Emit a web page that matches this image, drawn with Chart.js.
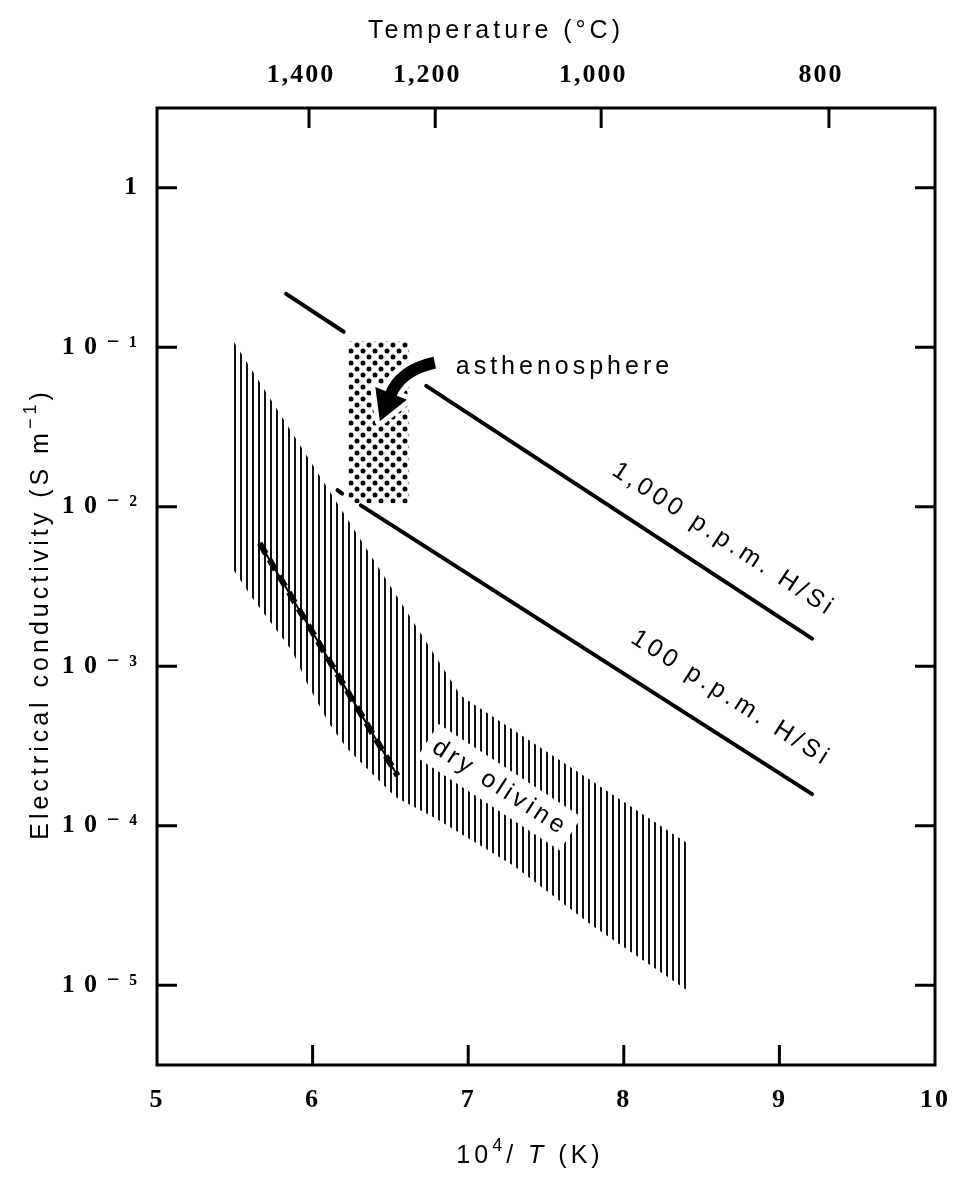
<!DOCTYPE html>
<html>
<head>
<meta charset="utf-8">
<script src="https://cdn.jsdelivr.net/npm/chart.js@4.4.1/dist/chart.umd.min.js"></script>
<style>
  html, body { margin: 0; padding: 0; background: #fff; }
  canvas { display: block; }
</style>
</head>
<body>
<canvas id="chart" width="968" height="1183"></canvas>
<script>
// axes
const X_TICKS = [5, 6, 7, 8, 9, 10];
const Y_TICKS = [1e-5, 1e-4, 1e-3, 1e-2, 1e-1, 1];
const TEMP_C_TICKS = [1400, 1200, 1000, 800];
const TEMP_C_LABELS = ['1,400', '1,200', '1,000', '800'];

// 1,000 p.p.m. H/Si (gap where it passes the asthenosphere box)
const ppm1000X = [5.83, 6.20, 6.45, 6.73, 9.21];
const ppm1000Y = [0.216, 0.125, null, 0.0573, 0.00149];

// 100 p.p.m. H/Si
const ppm100X = [6.16, 6.19, 6.25, 6.31, 9.21];
const ppm100Y = [0.0127, 0.0121, null, 0.0102, 0.000158];

// asthenosphere box
const asthenoX = [6.23, 6.62, 6.62, 6.23, 6.23];
const asthenoY = [0.109, 0.109, 0.0105, 0.0105, 0.109];

// dry olivine band (top edge left->right, then bottom edge right->left)
const olivineX = [5.494, 6.952, 8.416, 8.416, 7.801, 7.294, 6.787, 6.534, 6.217, 6.103, 5.963, 5.868, 5.615, 5.494, 5.494];
const olivineY = [0.108, 6.53e-4, 7.69e-5, 9.17e-6, 2.35e-5, 5.6e-5, 1.12e-4, 1.51e-4, 3.08e-4, 4.43e-4, 7.88e-4, 1.25e-3, 2.66e-3, 3.98e-3, 0.108];

// dashed line inside the olivine band
const dryLineX = [5.66, 6.546];
const dryLineY = [5.9e-3, 2.06e-4];

// annotation anchors (data coords)
const ASTHENO_LABEL = { x: 6.92, y: 0.0679, text: 'asthenosphere' };
const PPM1000_LABEL = { x: 8.618, y: 5.72e-3, text: '1,000 p.p.m. H/Si' };
const PPM100_LABEL = { x: 8.666, y: 5.78e-4, text: '100 p.p.m. H/Si' };
const OLIVINE_LABEL = { x: 7.205, y: 1.73e-4, text: 'dry olivine' };
const ARROW_TAIL = { x: 6.785, y: 0.0800 };
const ARROW_BEND = { x: 6.565, y: 0.0719 };
const ARROW_TIP = { x: 6.432, y: 0.0344 };

const SANS = "'Liberation Sans', Arial, sans-serif";
const SERIF = "'Liberation Serif', 'DejaVu Serif', serif";
const SUP = { '-': '\u207B', '0': '\u2070', '1': '\u00B9', '2': '\u00B2', '3': '\u00B3', '4': '\u2074', '5': '\u2075' };

function pts(xs, ys) {
  return xs.map((x, i) => ({ x: x, y: ys[i] }));
}

const canvas = document.getElementById('chart');
const ctx0 = canvas.getContext('2d');

function hatchPattern() {
  const c = document.createElement('canvas');
  c.width = 6; c.height = 6;
  const g = c.getContext('2d');
  g.fillStyle = '#111';
  g.fillRect(0, 0, 2, 6);
  return ctx0.createPattern(c, 'repeat');
}

function dotPattern() {
  const c = document.createElement('canvas');
  c.width = 12; c.height = 12;
  const g = c.getContext('2d');
  g.fillStyle = '#000';
  [[3, 3], [9, 9]].forEach(p => {
    g.beginPath(); g.arc(p[0], p[1], 2.5, 0, Math.PI * 2); g.fill();
  });
  return ctx0.createPattern(c, 'repeat');
}

function drawSpaced(ctx, pieces, x, y, align) {
  // pieces: [{text, font, dy}]
  let total = 0;
  pieces.forEach(p => { ctx.font = p.font; p.w = ctx.measureText(p.text).width; total += p.w; });
  let cx = align === 'center' ? x - total / 2 : x;
  ctx.textAlign = 'left';
  pieces.forEach(p => {
    ctx.font = p.font;
    ctx.fillText(p.text, cx, y + (p.dy || 0));
    cx += p.w;
  });
}

function pix(chart, p) {
  return { x: chart.scales.x.getPixelForValue(p.x), y: chart.scales.y.getPixelForValue(p.y) };
}

function lineAngle(chart, xs, ys, i, j) {
  const a = pix(chart, { x: xs[i], y: ys[i] });
  const b = pix(chart, { x: xs[j], y: ys[j] });
  return Math.atan2(b.y - a.y, b.x - a.x);
}

function quad(ctx, a, c, b) {
  ctx.beginPath();
  ctx.moveTo(a.x, a.y);
  ctx.quadraticCurveTo(c.x, c.y, b.x, b.y);
}

function drawArrow(ctx, tail, bend, tip) {
  const dx = tip.x - bend.x, dy = tip.y - bend.y;
  const L = Math.hypot(dx, dy);
  const ux = dx / L, uy = dy / L;
  const headLen = 30, headW = 17;
  const base = { x: tip.x - ux * headLen, y: tip.y - uy * headLen };
  const w1 = { x: base.x + uy * headW, y: base.y - ux * headW };
  const w2 = { x: base.x - uy * headW, y: base.y + ux * headW };
  const head = () => {
    ctx.beginPath();
    ctx.moveTo(tip.x, tip.y); ctx.lineTo(w1.x, w1.y); ctx.lineTo(w2.x, w2.y); ctx.closePath();
  };
  ctx.save();
  ctx.lineCap = 'butt';
  ctx.strokeStyle = '#fff';
  ctx.fillStyle = '#fff';
  ctx.lineWidth = 22;
  quad(ctx, tail, bend, base); ctx.stroke();
  ctx.lineWidth = 10; ctx.lineJoin = 'round';
  head(); ctx.stroke(); ctx.fill();
  ctx.strokeStyle = '#000';
  ctx.fillStyle = '#000';
  ctx.lineWidth = 12;
  quad(ctx, tail, bend, { x: base.x + ux * 2, y: base.y + uy * 2 }); ctx.stroke();
  head(); ctx.fill();
  ctx.restore();
}

function drawRotated(ctx, text, p, angle, baseline, whiteBox) {
  ctx.save();
  ctx.translate(p.x, p.y);
  ctx.rotate(angle);
  ctx.font = '25px ' + SANS;
  ctx.letterSpacing = '4px';
  const w = ctx.measureText(text).width;
  if (whiteBox) {
    ctx.fillStyle = '#fff';
    ctx.fillRect(-w / 2 - 8, -20, w + 14, 40);
  }
  ctx.fillStyle = '#000';
  ctx.textAlign = 'center';
  ctx.textBaseline = baseline;
  ctx.fillText(text, 0, 0);
  ctx.restore();
}

const decor = {
  id: 'decor',
  beforeDraw(chart) {
    chart.ctx.letterSpacing = '2px';
  },
  afterDatasetsDraw(chart) {
    const ctx = chart.ctx;
    const { left, top, right, bottom } = chart.chartArea;
    ctx.save();
    ctx.beginPath(); ctx.rect(left, top, right - left, bottom - top); ctx.clip();

    drawArrow(ctx, pix(chart, ARROW_TAIL), pix(chart, ARROW_BEND), pix(chart, ARROW_TIP));

    ctx.font = '25px ' + SANS;
    ctx.letterSpacing = '4px';
    ctx.fillStyle = '#000';
    ctx.textAlign = 'left';
    ctx.textBaseline = 'alphabetic';
    const a = pix(chart, ASTHENO_LABEL);
    ctx.fillText(ASTHENO_LABEL.text, a.x, a.y);

    drawRotated(ctx, PPM1000_LABEL.text, pix(chart, PPM1000_LABEL), lineAngle(chart, ppm1000X, ppm1000Y, 3, 4), 'alphabetic', false);
    drawRotated(ctx, PPM100_LABEL.text, pix(chart, PPM100_LABEL), lineAngle(chart, ppm100X, ppm100Y, 3, 4), 'alphabetic', false);
    drawRotated(ctx, OLIVINE_LABEL.text, pix(chart, OLIVINE_LABEL), lineAngle(chart, olivineX, olivineY, 1, 2), 'middle', true);
    ctx.restore();
  },
  afterDraw(chart) {
    const ctx = chart.ctx;
    const { left, top, right, bottom } = chart.chartArea;
    const x = chart.scales.x, y = chart.scales.y, xt = chart.scales.xTop;
    ctx.save();
    ctx.strokeStyle = '#000';
    ctx.lineWidth = 3;
    ctx.lineCap = 'butt';
    ctx.strokeRect(left, top, right - left, bottom - top);
    const seg = (x1, y1, x2, y2) => { ctx.beginPath(); ctx.moveTo(x1, y1); ctx.lineTo(x2, y2); ctx.stroke(); };
    y.ticks.forEach(t => {
      const py = y.getPixelForValue(t.value);
      seg(left, py, left + 20, py);
      seg(right, py, right - 20, py);
    });
    x.ticks.forEach(t => {
      if (t.value <= 5 || t.value >= 10) return;
      const px = x.getPixelForValue(t.value);
      seg(px, bottom, px, bottom - 20);
    });
    xt.ticks.forEach(t => {
      const px = xt.getPixelForValue(t.value);
      seg(px, top, px, top + 20);
    });

    // axis titles
    ctx.fillStyle = '#000';
    ctx.letterSpacing = '4px';
    ctx.textBaseline = 'alphabetic';
    const f = '25px ' + SANS;
    const fs = '18px ' + SANS;
    drawSpaced(ctx, [{ text: 'Temperature (\u00B0C)', font: f }], 496, 38, 'center');
    drawSpaced(ctx, [
      { text: '10', font: f },
      { text: '4', font: fs, dy: -12 },
      { text: '/ ', font: f },
      { text: 'T', font: 'italic ' + f },
      { text: ' (K)', font: f }
    ], 530, 1163, 'center');
    ctx.translate(48, 614);
    ctx.rotate(-Math.PI / 2);
    drawSpaced(ctx, [
      { text: 'Electrical conductivity (S m', font: f },
      { text: '\u22121', font: fs, dy: -12 },
      { text: ')', font: f }
    ], 0, 0, 'center');
    ctx.restore();
  }
};

const tickFont = { family: SERIF, size: 26, weight: 'bold' };

new Chart(canvas, {
  type: 'line',
  data: {
    datasets: [
      {
        label: '1,000 p.p.m. H/Si',
        data: pts(ppm1000X, ppm1000Y),
        borderColor: '#000', borderWidth: 4, borderCapStyle: 'round',
        pointRadius: 0, spanGaps: false, fill: false, order: 1
      },
      {
        label: '100 p.p.m. H/Si',
        data: pts(ppm100X, ppm100Y),
        borderColor: '#000', borderWidth: 4, borderCapStyle: 'round',
        pointRadius: 0, spanGaps: false, fill: false, order: 1
      },
      {
        label: 'dry olivine trend',
        data: pts(dryLineX, dryLineY),
        borderColor: '#000', borderWidth: 2,
        pointRadius: 0, fill: false, order: 2
      },
      {
        label: 'dry olivine trend marks',
        data: pts(dryLineX, dryLineY),
        borderColor: '#000', borderWidth: 6, borderDash: [12, 7],
        pointRadius: 0, fill: false, order: 2
      },
      {
        label: 'asthenosphere',
        data: pts(asthenoX, asthenoY),
        borderColor: 'rgba(0,0,0,0)', borderWidth: 1,
        backgroundColor: dotPattern(),
        pointRadius: 0, fill: 'shape', order: 3
      },
      {
        label: 'dry olivine',
        data: pts(olivineX, olivineY),
        borderColor: 'rgba(0,0,0,0)', borderWidth: 1,
        backgroundColor: hatchPattern(),
        pointRadius: 0, fill: 'shape', order: 5
      }
    ]
  },
  options: {
    responsive: false,
    animation: false,
    events: [],
    layout: { padding: { left: 0, right: 21, top: 0, bottom: 0 } },
    plugins: {
      legend: { display: false },
      tooltip: { enabled: false }
    },
    scales: {
      x: {
        type: 'linear',
        position: 'bottom',
        min: 5, max: 10,
        afterBuildTicks: (s) => { s.ticks = X_TICKS.map(v => ({ value: v })); },
        afterFit: (s) => { s.height = 118; },
        grid: { display: false, drawTicks: false },
        border: { display: false },
        ticks: { autoSkip: false, maxRotation: 0, padding: 20, color: '#000', font: tickFont }
      },
      xTop: {
        type: 'linear',
        position: 'top',
        min: 5, max: 10,
        afterBuildTicks: (s) => { s.ticks = TEMP_C_TICKS.map(c => ({ value: 1e4 / (c + 273.15) })); },
        afterFit: (s) => { s.height = 108; },
        grid: { display: false, drawTicks: false },
        border: { display: false },
        ticks: {
          autoSkip: false, maxRotation: 0, padding: 17, labelOffset: -8, color: '#000', font: tickFont,
          callback: (v, i) => TEMP_C_LABELS[i]
        }
      },
      y: {
        type: 'logarithmic',
        position: 'left',
        min: Math.pow(10, -5.5), max: Math.pow(10, 0.5),
        afterBuildTicks: (s) => { s.ticks = Y_TICKS.map(v => ({ value: v })); },
        afterFit: (s) => { s.width = 157; },
        grid: { display: false, drawTicks: false },
        border: { display: false },
        ticks: {
          autoSkip: false, padding: 18, color: '#000', font: tickFont,
          callback: (v) => {
            const e = Math.round(Math.log10(v));
            if (e === 0) return '1';
            return '1\u20090\u2009' + String(e).split('').map(ch => SUP[ch]).join('\u2009');
          }
        }
      }
    }
  },
  plugins: [decor]
});
</script>
</body>
</html>
